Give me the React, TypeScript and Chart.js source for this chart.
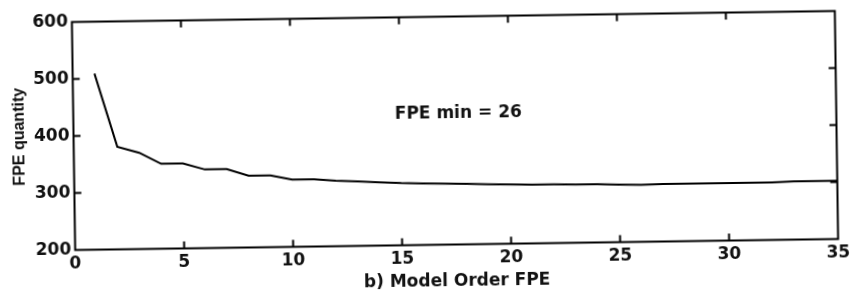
import React, { useEffect, useRef } from "react";
import { Chart, registerables } from "chart.js";

Chart.register(...registerables);

// ---- data ----
const modelOrders = [
  1, 2, 3, 4, 5, 6, 7, 8, 9, 10, 11, 12, 13, 14, 15, 16, 17, 18, 19, 20, 21, 22,
  23, 24, 25, 26, 27, 28, 29, 30, 31, 32, 33, 34, 35,
];
const fpeValues = [
  509, 380, 369, 349, 349, 338, 338, 326, 326, 318, 318, 315, 313, 311, 309, 308,
  307, 306, 305, 304, 303, 303, 302, 302, 301, 300, 301, 301, 301, 301, 301, 301,
  302, 302, 302,
];
const xTickValues = [0, 5, 10, 15, 20, 25, 30, 35];
const yTickValues = [200, 300, 400, 500, 600];
const xTitle = "b) Model Order FPE";
const yTitle = "FPE quantity";
const annotationText = "FPE min = 26";
const annotationX = 14.75;
const annotationY = 430;

const TEXT = "#111";

const framePlugin = {
  id: "frameAndTicks",
  afterDraw(chart: any) {
    const ctx: CanvasRenderingContext2D = chart.ctx;
    const { left, right, top, bottom } = chart.chartArea;
    const xs = chart.scales.x;
    const ys = chart.scales.y;
    ctx.save();
    ctx.strokeStyle = "#000";
    ctx.lineWidth = 2;
    ctx.strokeRect(left, top, right - left, bottom - top);
    const tl = 7;
    ctx.fillStyle = "#000";
    for (let i = 1; i < xTickValues.length - 1; i++) {
      const px = xs.getPixelForValue(xTickValues[i]);
      ctx.fillRect(px - 1, bottom - tl, 2, tl);
      ctx.fillRect(px - 1, top, 2, tl);
    }
    for (let i = 1; i < yTickValues.length - 1; i++) {
      const py = ys.getPixelForValue(yTickValues[i]);
      ctx.fillRect(left, py - 1, tl, 2);
      ctx.fillRect(right - tl, py - 1, tl, 2);
    }
    ctx.fillStyle = TEXT;
    ctx.font = 'bold 17px "DejaVu Sans"';
    ctx.textAlign = "left";
    ctx.textBaseline = "middle";
    ctx.fillText(
      annotationText,
      xs.getPixelForValue(annotationX),
      ys.getPixelForValue(annotationY)
    );
    ctx.restore();
  },
};

export default function App() {
  const canvasRef = useRef<HTMLCanvasElement | null>(null);

  useEffect(() => {
    const canvas = canvasRef.current;
    if (!canvas) return;
    const chart = new Chart(canvas, {
      type: "line",
      data: {
        datasets: [
          {
            data: modelOrders.map((o, i) => ({ x: o, y: fpeValues[i] })),
            borderColor: "#000",
            borderWidth: 2,
            pointRadius: 0,
            tension: 0,
            fill: false,
          },
        ],
      },
      options: {
        animation: false,
        responsive: false,
        devicePixelRatio: 1,
        layout: { padding: { top: 16.5, right: 16.5, left: 0, bottom: 0 } },
        plugins: {
          legend: { display: false },
          tooltip: { enabled: false },
        },
        scales: {
          x: {
            type: "linear",
            min: 0,
            max: 35,
            afterFit: (s: any) => {
              s.height = 48.5;
            },
            afterBuildTicks: (s: any) => {
              s.ticks = xTickValues.map((v) => ({ value: v }));
            },
            grid: { display: false, drawTicks: false },
            border: { display: false },
            ticks: {
              padding: 4,
              maxRotation: 0,
              autoSkip: false,
              color: TEXT,
              font: { family: "DejaVu Sans", size: 17, weight: "bold" },
            },
            title: {
              display: true,
              text: xTitle,
              color: TEXT,
              font: { family: "DejaVu Sans", size: 17, weight: "bold" },
              padding: { top: 0, bottom: 1 },
            },
          },
          y: {
            type: "linear",
            min: 200,
            max: 600,
            afterFit: (s: any) => {
              s.width = 73.5;
            },
            afterBuildTicks: (s: any) => {
              s.ticks = yTickValues.map((v) => ({ value: v }));
            },
            grid: { display: false, drawTicks: false },
            border: { display: false },
            ticks: {
              padding: 4,
              autoSkip: false,
              color: TEXT,
              font: { family: "DejaVu Sans", size: 17, weight: "bold" },
            },
            title: {
              display: true,
              text: yTitle,
              color: TEXT,
              font: { family: "Liberation Sans", size: 16, weight: "bold" },
              padding: { top: 10, bottom: 0 },
            },
          },
        },
      },
      plugins: [framePlugin],
    });
    return () => chart.destroy();
  }, []);

  return (
    <div
      style={{
        position: "fixed",
        left: 0,
        top: 0,
        width: 853,
        height: 293,
        background: "#fff",
        transform: "rotate(-0.826deg)",
        transformOrigin: "455px 130.5px",
      }}
    >
      <canvas ref={canvasRef} width={853} height={293} style={{ display: "block" }} />
    </div>
  );
}
